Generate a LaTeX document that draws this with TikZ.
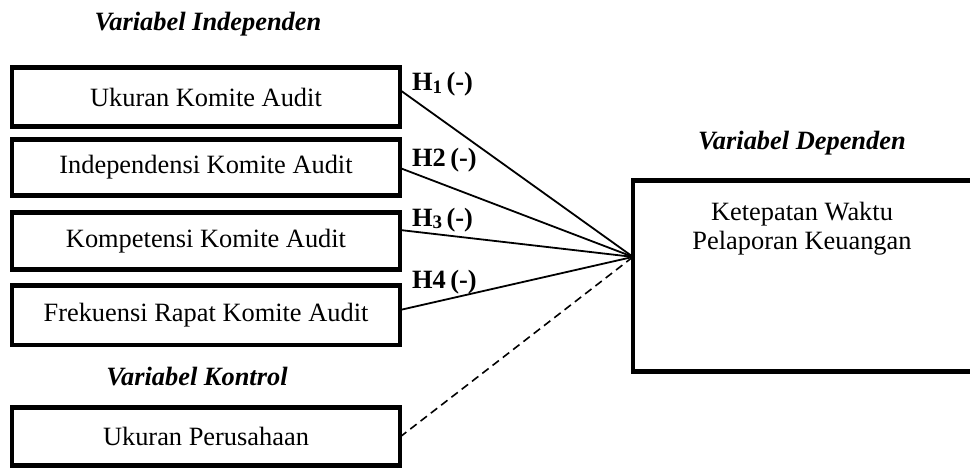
\documentclass[tikz,border=0pt]{standalone}
\usepackage{fontspec}
\setmainfont{Liberation Serif}
\usetikzlibrary{calc}
\newcommand{\bodysize}{\fontsize{26.4}{29}\selectfont}
\begin{document}
\begin{tikzpicture}[x=1pt,y=-1pt,
  varbox/.style={draw, line width=4.5pt, minimum width=388pt,
    inner sep=0pt, outer sep=0pt, font=\bodysize},
  depbox/.style={draw, line width=4.5pt, minimum width=339pt,
    minimum height=191pt, inner sep=0pt, outer sep=0pt},
  heading/.style={font=\bodysize\bfseries\itshape, anchor=base, inner sep=0pt},
  hyp/.style={font=\bodysize\bfseries, anchor=base west, inner sep=0pt},
  link/.style={line width=1.8pt},
  ctrl/.style={line width=1.6pt, dash pattern=on 8pt off 5pt}]
\useasboundingbox (0,0) rectangle (970,468);

% group headings
\node[heading] (hind) at (208,31) {Variabel Independen};
\node[heading] (hdep) at (802,150) {Variabel Dependen};
\node[heading] (hkon) at (197,385) {Variabel Kontrol};

% independent and control variables
\node[varbox, minimum height=59pt] (b1) at (206,97)    {Ukuran Komite Audit};
\node[varbox, minimum height=56pt] (b2) at (206,167.5) {Independensi Komite Audit};
\node[varbox, minimum height=57pt] (b3) at (206,241)   {Kompetensi Komite Audit};
\node[varbox, minimum height=59.5pt] (b4) at (206,315) {Frekuensi Rapat Komite Audit};
\node[varbox, minimum height=58pt] (b5) at (206,436.5) {Ukuran Perusahaan};

% dependent variable
\node[depbox] (dep) at (802.5,276) {};
\node[font=\bodysize, align=center, anchor=north, inner sep=0pt] (deptext)
  at (802,202) {Ketepatan Waktu\\Pelaporan Keuangan};

\coordinate (conv) at ($(dep.north west)!0.4!(dep.south west)$);

% hypotheses
\draw[link] ($(b1.east)+(0,-7)$) -- (conv);
\draw[link] ($(b2.east)+(0,0.5)$) -- (conv);
\draw[link] ($(b3.east)+(0,-11)$) -- (conv);
\draw[link] ($(b4.east)+(0,-5)$) -- (conv);
\draw[ctrl] ($(b5.east)+(0,0.5)$) -- (conv);

\node[hyp] (h1) at (412,91)  {H\raisebox{-0.2ex}{\fontsize{19}{19}\selectfont 1}\,(-)};
\node[hyp] (h2) at (412,167) {H2\,(-)};
\node[hyp] (h3) at (412,226) {H\raisebox{-0.2ex}{\fontsize{19}{19}\selectfont 3}\,(-)};
\node[hyp] (h4) at (412,288) {H4\,(-)};
\end{tikzpicture}
\end{document}
